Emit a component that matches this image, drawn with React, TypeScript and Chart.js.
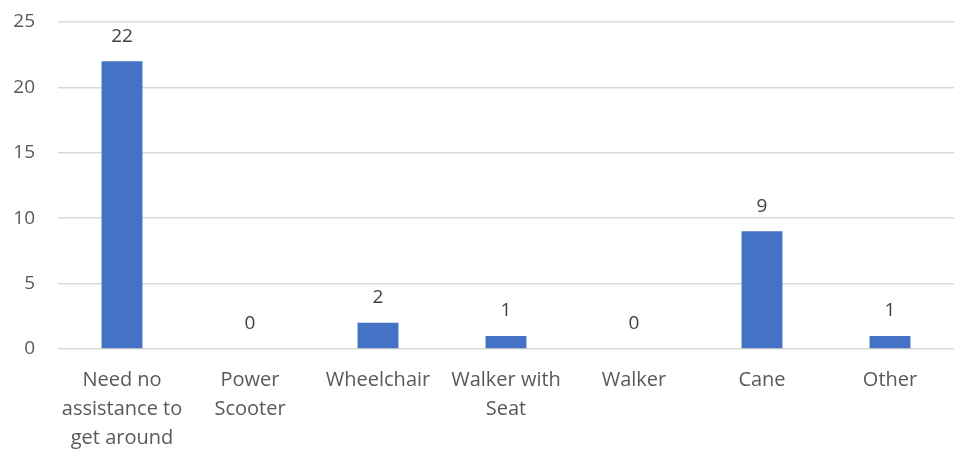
import React, { useEffect, useRef } from "react";
import { Chart, registerables } from "chart.js";

Chart.register(...registerables);

const categories: string[][] = [
  ["Need no", "assistance to", "get around"],
  ["Power", "Scooter"],
  ["Wheelchair"],
  ["Walker with", "Seat"],
  ["Walker"],
  ["Cane"],
  ["Other"],
];
const values: number[] = [22, 0, 2, 1, 0, 9, 1];
const yTicks = { min: 0, max: 25, step: 5 };

const FONT = "'Open Sans', Lato, sans-serif";

const dataLabels = {
  id: "dataLabels",
  afterDatasetsDraw(chart: any) {
    const ctx = chart.ctx;
    const meta = chart.getDatasetMeta(0);
    ctx.save();
    ctx.font = `19px ${FONT}`;
    ctx.fillStyle = "#404040";
    ctx.textAlign = "center";
    ctx.textBaseline = "middle";
    meta.data.forEach((bar: any, i: number) => {
      ctx.fillText(String(values[i]), bar.x, bar.y - 25);
    });
    ctx.restore();
  },
};

export default function App() {
  const ref = useRef<HTMLCanvasElement | null>(null);
  useEffect(() => {
    document.body.style.margin = "0";
    if (!ref.current) return;
    const chart = new Chart(ref.current, {
      type: "bar",
      data: {
        labels: categories,
        datasets: [
          {
            data: values,
            backgroundColor: "#4472C4",
            categoryPercentage: 1,
            barPercentage: 0.32,
          },
        ],
      },
      options: {
        animation: false,
        responsive: false,
        maintainAspectRatio: false,
        layout: { padding: { top: 22, right: 2, left: 0, bottom: 0 } },
        plugins: { legend: { display: false }, tooltip: { enabled: false } },
        scales: {
          x: {
            afterFit(scale: any) {
              scale.height = 104;
            },
            grid: { display: false, drawTicks: false },
            border: { display: false },
            ticks: {
              color: "#595959",
              font: { family: FONT, size: 20, lineHeight: 1.45 },
              padding: 17,
              maxRotation: 0,
              autoSkip: false,
            },
          },
          y: {
            min: yTicks.min,
            max: yTicks.max,
            afterFit(scale: any) {
              scale.width = 58;
              scale.paddingTop = 0;
              scale.paddingBottom = 0;
            },
            grid: { color: "#d9d9d9", lineWidth: 1.5, drawTicks: false },
            border: { display: false },
            ticks: {
              stepSize: yTicks.step,
              color: "#595959",
              font: { family: FONT, size: 19 },
              padding: 23,
            },
          },
        },
      },
      plugins: [dataLabels],
    });
    return () => chart.destroy();
  }, []);
  return (
    <div style={{ width: 956, height: 453 }}>
      <canvas ref={ref} width={956} height={453} style={{ display: "block" }} />
    </div>
  );
}
